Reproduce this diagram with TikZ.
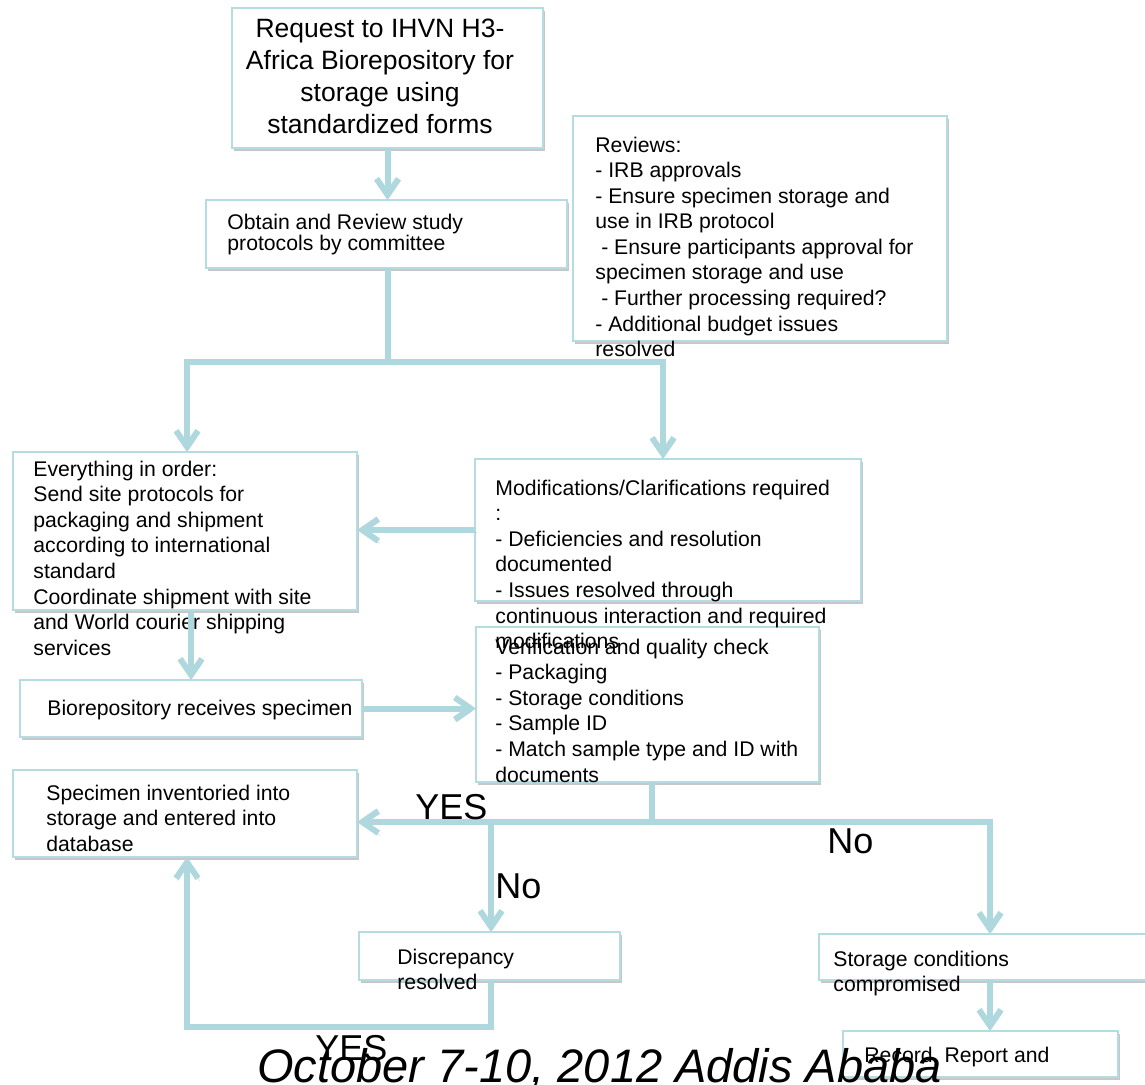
\documentclass[tikz,border=0pt]{standalone}
\usepackage{fontspec}
\setmainfont{Liberation Sans}
\usetikzlibrary{arrows.meta,shadows}

\definecolor{edge}{RGB}{180,220,225}
\definecolor{conncol}{RGB}{174,216,222}

% box: name, left, top, width, height (pixel units)
\newcommand\flowbox[5]{%
  \node[box,minimum width=#4*0.5pt,minimum height=#5*0.5pt] (#1) at (#2,#3) {};}

\begin{document}
\begin{tikzpicture}[x=0.5pt,y=-0.5pt,
  box/.style={draw=edge,line width=1pt,fill=white,anchor=north west,
    inner sep=0pt,outer sep=0pt,
    drop shadow={shadow xshift=1pt,shadow yshift=-1.3pt,opacity=0.22,fill=black}},
  % multi-line texts are placed by the baseline of their last line
  txt/.style={anchor=base west,inner sep=0pt,align=left,
    font=\fontsize{10.6}{12.8}\selectfont},
  bigtxt/.style={anchor=base,inner sep=0pt,align=center,
    font=\fontsize{13.25}{16}\selectfont},
  lbl/.style={anchor=base west,inner sep=0pt,font=\fontsize{18}{20}\selectfont},
  conn/.style={draw=conncol,line width=3pt,
    preaction={draw=black,opacity=0.12,
      transform canvas={shift={(0.8pt,-1.2pt)}}}},
  arr/.style={conn,-{Straight Barb[length=8pt,width=11pt]}}]

\useasboundingbox (0,0) rectangle (1145,1085);

% boxes
\flowbox{req}{232}{8}{311}{140}
\flowbox{obtain}{206}{200}{361}{68}
\flowbox{rev}{573}{116}{374}{225}
\flowbox{every}{13}{452}{344}{158}
\flowbox{mod}{475}{459}{386}{142}
\flowbox{bio}{20}{680}{342}{57}
\flowbox{ver}{476}{627}{343}{155}
\flowbox{spec}{13}{770}{344}{87}
\flowbox{disc}{359}{932}{261}{48}
\flowbox{stor}{819}{934}{346}{46}
\flowbox{rec}{843}{1031}{275}{46}

% box texts
\node[bigtxt] (treq) at (380,134) {Request to IHVN H3-\\Africa Biorepository for\\storage using\\standardized forms};
\node[txt,font=\fontsize{10.6}{9.5}\selectfont] (tobtain) at (227,251) {Obtain and Review study\\protocols by committee};
\node[txt] (trev) at (595,356.8) {Reviews:\\- IRB approvals\\- Ensure specimen storage and\\use in IRB protocol\\\ - Ensure participants approval for\\specimen storage and use\\\ - Further processing required?\\- Additional budget issues\\resolved};
\node[txt] (tevery) at (33,655.2) {Everything in order:\\Send site protocols for\\packaging and shipment\\according to international\\standard\\Coordinate shipment with site\\and World courier shipping\\services};
\node[txt] (tmod) at (495,648.6) {Modifications/Clarifications required\\:\\- Deficiencies and resolution\\documented\\- Issues resolved through\\continuous interaction and required\\modifications};
\node[txt] (tver) at (495,782) {Verification and quality check\\- Packaging\\- Storage conditions\\- Sample ID\\- Match sample type and ID with\\documents};
\node[txt] (tbio) at (47,715) {Biorepository receives specimen};
\node[txt] (tspec) at (46,851.2) {Specimen inventoried into\\storage and entered into\\database};
\node[txt] (tdisc) at (397,989.6) {Discrepancy\\resolved};
\node[txt] (tstor) at (833,991.6) {Storage conditions\\compromised};
\node[txt] (trec) at (864,1062) {Record, Report and};

% junctions
\coordinate (jo) at (388,362);
\coordinate (jl) at (187,362);
\coordinate (jr) at (663,362);
\coordinate (jv) at (652,822);
\coordinate (jd) at (491,822);
\coordinate (js) at (990,822);
\coordinate (jb1) at (491,1027);
\coordinate (jb2) at (187,1027);

% connectors
\draw[arr] (req.south) -- (req.south |- obtain.north);
\draw[conn] (jo |- obtain.south) -- (jo);
\draw[arr] (jo) -- (jl) -- (jl |- every.north);
\draw[arr] (jo) -- (jr) -- (jr |- mod.north);
\draw[arr] (mod.west) -- (mod.west -| every.east);
\draw[arr] (every.south -| bio.north) -- (bio.north);
\draw[arr] (bio.east) -- (bio.east -| ver.west);
\draw[conn] (jv |- ver.south) -- (jv);
\draw[arr] (jv) -- (jv -| spec.east);
\draw[arr] (jv) -- (js) -- (js |- stor.north);
\draw[arr] (jd) -- (jd |- disc.north);
\draw[arr] (jd |- disc.south) -- (jb1) -- (jb2) -- (jb2 |- spec.south);
\draw[arr] (js |- stor.south) -- (js |- rec.north);

% branch labels
\node[lbl] (lyes1) at (415,819) {YES};
\node[lbl] (lno1) at (495,898) {No};
\node[lbl] (lno2) at (827,853) {No};
\node[lbl] (lyes2) at (315,1060) {YES};

% footer
\node[anchor=base west,inner sep=0pt,font=\fontsize{23.5}{26}\itshape] (date) at (257,1082) {October 7-10, 2012 Addis Ababa};
\end{tikzpicture}
\end{document}
